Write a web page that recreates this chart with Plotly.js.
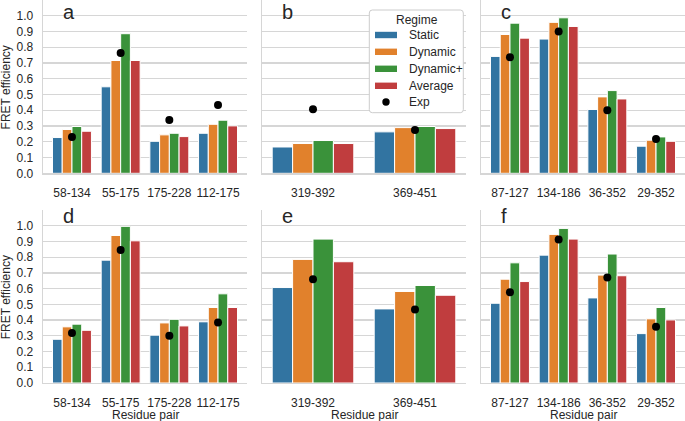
<!DOCTYPE html>
<html>
<head>
<meta charset="utf-8">
<script src="https://cdn.plot.ly/plotly-3.0.1.min.js"></script>
<style>html,body{margin:0;padding:0;background:#fff;}#chart{width:685px;height:421px;}</style>
</head>
<body>
<div id="chart"></div>
<script>
// ---- data ----
const regimes = ["Static", "Dynamic", "Dynamic+", "Average"];
const expLabel = "Exp";
const legendTitle = "Regime";
const xTitle = "Residue pair";
const yTitle = "FRET efficiency";
const catsA = ["58-134", "55-175", "175-228", "112-175"];
const catsB = ["319-392", "369-451"];
const catsC = ["87-127", "134-186", "36-352", "29-352"];
const panelLetters = ["a", "b", "c", "d", "e", "f"];
const yTickVals = [0.0, 0.1, 0.2, 0.3, 0.4, 0.5, 0.6, 0.7, 0.8, 0.9, 1.0];

// panel a
const staticA  = [0.227, 0.549, 0.203, 0.254];
const dynamicA = [0.278, 0.716, 0.244, 0.311];
const dynplusA = [0.297, 0.886, 0.254, 0.337];
const averageA = [0.267, 0.716, 0.233, 0.301];
const expA     = [0.231, 0.763, 0.339, 0.434];
// panel b
const staticB  = [0.167, 0.263];
const dynamicB = [0.189, 0.290];
const dynplusB = [0.208, 0.297];
const averageB = [0.189, 0.284];
const expB     = [0.407, 0.275];
// panel c
const staticC  = [0.742, 0.852, 0.405, 0.172];
const dynamicC = [0.881, 0.958, 0.485, 0.210];
const dynplusC = [0.953, 0.987, 0.525, 0.231];
const averageC = [0.858, 0.932, 0.472, 0.203];
const expC     = [0.737, 0.900, 0.400, 0.218];
// panel d
const staticD  = [0.278, 0.781, 0.304, 0.389];
const dynamicD = [0.357, 0.938, 0.382, 0.480];
const dynplusD = [0.374, 0.996, 0.405, 0.567];
const averageD = [0.335, 0.904, 0.363, 0.480];
const expD     = [0.318, 0.845, 0.300, 0.384];
// panel e
const staticE  = [0.607, 0.471];
const dynamicE = [0.786, 0.582];
const dynplusE = [0.915, 0.620];
const averageE = [0.771, 0.558];
const expE     = [0.660, 0.467];
// panel f
const staticF  = [0.507, 0.813, 0.541, 0.314];
const dynamicF = [0.660, 0.945, 0.686, 0.408];
const dynplusF = [0.764, 0.983, 0.820, 0.480];
const averageF = [0.645, 0.915, 0.682, 0.401];
const expF     = [0.577, 0.913, 0.671, 0.357];

// ---- styling ----
const colors = ["#3274a1", "#e1812c", "#3a923a", "#c03d3e"];
const FONT = "Liberation Sans, Arial, sans-serif";
const TXT = "#262626";
const GRID = "#d6d6d6";

const panels = [
  {cats: catsA, series: [staticA, dynamicA, dynplusA, averageA], exp: expA},
  {cats: catsB, series: [staticB, dynamicB, dynplusB, averageB], exp: expB},
  {cats: catsC, series: [staticC, dynamicC, dynplusC, averageC], exp: expC},
  {cats: catsA, series: [staticD, dynamicD, dynplusD, averageD], exp: expD},
  {cats: catsB, series: [staticE, dynamicE, dynplusE, averageE], exp: expE},
  {cats: catsC, series: [staticF, dynamicF, dynplusF, averageF], exp: expF}
];

const W = 685, H = 421;
const px = v => v / W;
const py = v => 1 - v / H;
const colPx = [[43, 247], [262, 466], [481, 685]];
const rowPx = [[0, 173.3], [210, 383]];

const traces = [];
panels.forEach((p, i) => {
  const ax = i === 0 ? "" : String(i + 1);
  p.series.forEach((vals, k) => {
    traces.push({
      type: "bar", name: regimes[k], x: p.cats, y: vals,
      xaxis: "x" + ax, yaxis: "y" + ax,
      marker: {color: colors[k], line: {color: "#ffffff", width: 1}},
      showlegend: false, hoverinfo: "skip"
    });
  });
});
panels.forEach((p, i) => {
  const ax = i === 0 ? "" : String(i + 1);
  traces.push({
    type: "scatter", mode: "markers", name: expLabel, x: p.cats, y: p.exp,
    xaxis: "x" + ax, yaxis: "y" + ax,
    marker: {color: "#000000", size: 8},
    showlegend: false, hoverinfo: "skip"
  });
});

const layout = {
  width: W, height: H,
  margin: {l: 0, r: 0, t: 0, b: 0},
  paper_bgcolor: "#ffffff", plot_bgcolor: "#ffffff",
  barmode: "group", bargap: 0.2, bargroupgap: 0,
  font: {family: FONT, size: 12, color: TXT},
  showlegend: false,
  annotations: [],
  shapes: []
};

panels.forEach((p, i) => {
  const ax = i === 0 ? "" : String(i + 1);
  const col = i % 3, row = Math.floor(i / 3);
  const n = p.cats.length;
  const xr = n === 4 ? [-0.595, 3.595] : [-0.5, 1.5];
  layout["xaxis" + ax] = {
    domain: [px(colPx[col][0]), px(colPx[col][1])],
    anchor: "y" + ax, type: "category",
    range: xr, fixedrange: true,
    showgrid: false, zeroline: false,
    showline: true, linecolor: GRID, linewidth: 1.3,
    ticks: "outside", ticklen: 8, tickcolor: "rgba(0,0,0,0)",
    tickfont: {family: FONT, size: 12, color: TXT}
  };
  layout["yaxis" + ax] = {
    domain: [py(rowPx[row][1]), py(rowPx[row][0])],
    anchor: "x" + ax, range: [0, 1.1], fixedrange: true,
    tickvals: yTickVals, tickformat: ".1f",
    showticklabels: col === 0,
    showgrid: true, gridcolor: GRID, gridwidth: 1.3,
    zeroline: false,
    showline: true, linecolor: GRID, linewidth: 1.3,
    ticks: col === 0 ? "outside" : "", ticklen: 6, tickcolor: "rgba(0,0,0,0)",
    tickfont: {family: FONT, size: 12, color: TXT}
  };
  // panel letter
  const letterTop = row === 0 ? 0 : 203.6;
  layout.annotations.push({
    text: panelLetters[i], xref: "paper", yref: "paper",
    x: px(colPx[col][0] + 19), y: py(letterTop), xanchor: "left", yanchor: "top",
    showarrow: false, borderpad: 0,
    font: {family: FONT, size: 20, color: TXT}
  });
  // axis titles
  if (row === 1) {
    layout.annotations.push({
      text: xTitle, xref: "paper", yref: "paper",
      x: px((colPx[col][0] + colPx[col][1]) / 2), y: py(414.5),
      xanchor: "center", yanchor: "middle", showarrow: false, borderpad: 0,
      font: {family: FONT, size: 12, color: TXT}
    });
  }
  if (col === 0) {
    layout.annotations.push({
      text: yTitle, xref: "paper", yref: "paper", textangle: -90,
      x: px(5.8), y: py((rowPx[row][0] + rowPx[row][1]) / 2 + 1),
      xanchor: "center", yanchor: "middle", showarrow: false, borderpad: 0,
      font: {family: FONT, size: 12, color: TXT}
    });
  }
});

// ---- legend (drawn by hand to match the reference's box) ----
const lg = {x0: 369.3, x1: 463.3, y0: 10, y1: 112.7, r: 3};
layout.shapes.push({
  type: "path", xref: "paper", yref: "paper",
  path: (() => {
    const X0 = px(lg.x0), X1 = px(lg.x1), Y0 = py(lg.y0), Y1 = py(lg.y1);
    const rx = lg.r / W, ry = lg.r / H;
    return `M${X0 + rx},${Y0} L${X1 - rx},${Y0} Q${X1},${Y0} ${X1},${Y0 - ry} ` +
           `L${X1},${Y1 + ry} Q${X1},${Y1} ${X1 - rx},${Y1} L${X0 + rx},${Y1} ` +
           `Q${X0},${Y1} ${X0},${Y1 + ry} L${X0},${Y0 - ry} Q${X0},${Y0} ${X0 + rx},${Y0} Z`;
  })(),
  fillcolor: "#ffffff", line: {color: "#cccccc", width: 1}, layer: "above"
});
layout.annotations.push({
  text: legendTitle, xref: "paper", yref: "paper",
  x: px((lg.x0 + lg.x1) / 2 + 0.5), y: py(19.5), xanchor: "center", yanchor: "middle",
  showarrow: false, font: {family: FONT, size: 12, color: TXT}
});
const rowY = [35, 51.8, 68.8, 85.8, 102];
regimes.forEach((r, k) => {
  layout.shapes.push({
    type: "rect", xref: "paper", yref: "paper",
    x0: px(375), x1: px(397), y0: py(rowY[k] - 3.2), y1: py(rowY[k] + 3.2),
    fillcolor: colors[k], line: {width: 0}, layer: "above"
  });
  layout.annotations.push({
    text: r, xref: "paper", yref: "paper",
    x: px(407), y: py(rowY[k]), xanchor: "left", yanchor: "middle",
    showarrow: false, font: {family: FONT, size: 12, color: TXT}
  });
});
layout.shapes.push({
  type: "circle", xref: "paper", yref: "paper",
  x0: px(386 - 3.7), x1: px(386 + 3.7), y0: py(rowY[4] - 3.7), y1: py(rowY[4] + 3.7),
  fillcolor: "#000000", line: {width: 0}, layer: "above"
});
layout.annotations.push({
  text: expLabel, xref: "paper", yref: "paper",
  x: px(407), y: py(rowY[4]), xanchor: "left", yanchor: "middle",
  showarrow: false, font: {family: FONT, size: 12, color: TXT}
});

Plotly.newPlot("chart", traces, layout, {displayModeBar: false, staticPlot: true});
</script>
</body>
</html>
